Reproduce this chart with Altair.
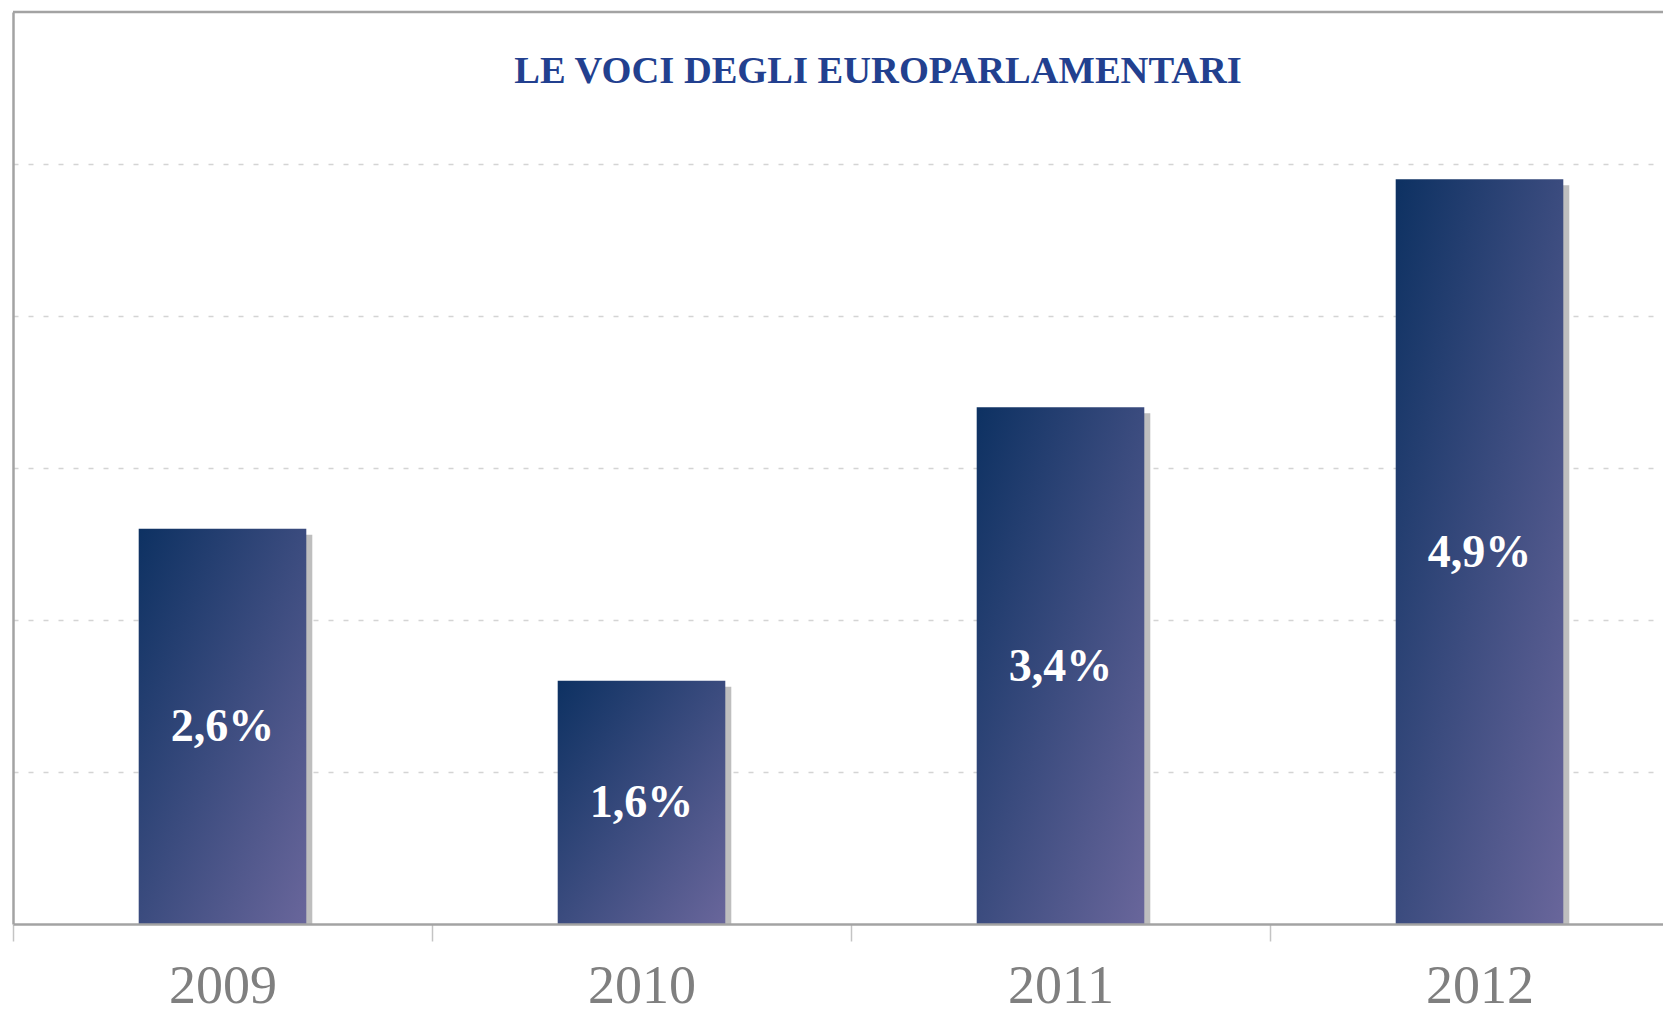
import altair as alt
import pandas as pd

years = ["2009", "2010", "2011", "2012"]
values = [2.6, 1.6, 3.4, 4.9]
value_labels = ["2,6%", "1,6%", "3,4%", "4,9%"]
title_text = "LE VOCI DEGLI EUROPARLAMENTARI"
y_max = 6
grid_values = [1, 2, 3, 4, 5]

df = pd.DataFrame({"year": years, "value": values, "label": value_labels})

BORDER = "#A3A3A3"

x_enc = alt.X(
    "year:N",
    sort=years,
    scale=alt.Scale(paddingInner=0, paddingOuter=0, range=[0, 1676]),
    axis=alt.Axis(
        title=None,
        labelAngle=0,
        tickBand="extent",
        tickSize=17,
        tickColor="#C4C4C4",
        tickWidth=1.5,
        domainColor=BORDER,
        domainWidth=2.5,
        labelFont="Liberation Serif",
        labelFontSize=54,
        labelColor="#7F7F7F",
        labelBaseline="alphabetic",
        labelPadding=61,
        grid=False,
        zindex=1,
    ),
)
y_scale = alt.Scale(domain=[0, y_max], nice=False, zero=True)
y_axis = alt.Axis(
    title=None,
    labels=False,
    ticks=False,
    domain=True,
    domainColor=BORDER,
    domainWidth=2.5,
    grid=True,
    values=grid_values,
    gridColor="#D4D4D4",
    gridWidth=1.5,
    gridDash=[5, 10],
)

base = alt.Chart(df)

shadow = base.mark_bar(
    width=alt.RelativeBandSize(0.4), color="#BEBEBE", xOffset=6, yOffset=6
).encode(
    x=x_enc,
    y=alt.Y("value:Q", scale=y_scale, axis=y_axis),
    y2=alt.datum(0),
)

grad = alt.Gradient(
    gradient="linear",
    x1=0, y1=0, x2=1, y2=1,
    stops=[
        alt.GradientStop(offset=0, color="#0D3162"),
        alt.GradientStop(offset=1, color="#69669B"),
    ],
)

bars = base.mark_bar(width=alt.RelativeBandSize(0.4), color=grad).encode(
    x=x_enc,
    y=alt.Y("value:Q", scale=y_scale, axis=y_axis),
    y2=alt.datum(0),
)

texts = base.transform_calculate(mid="datum.value / 2").mark_text(
    font="Liberation Serif",
    fontWeight="bold",
    fontSize=46,
    color="white",
    align="center",
    baseline="middle",
    dy=1,
).encode(
    x=x_enc,
    y=alt.Y("mid:Q", scale=y_scale, axis=y_axis),
    text="label:N",
)

top_border = alt.Chart(pd.DataFrame({"top": [y_max]})).mark_rule(
    color=BORDER, strokeWidth=2.5
).encode(y=alt.Y("top:Q", scale=y_scale, axis=y_axis))

title = alt.Chart(pd.DataFrame({"t": [title_text]})).mark_text(
    font="Liberation Serif",
    fontWeight="bold",
    fontSize=38.5,
    color="#22408F",
    align="center",
    baseline="alphabetic",
).encode(
    text="t:N",
    x=alt.value(865),
    y=alt.value(71),
)

chart = (
    alt.layer(shadow, bars, texts, top_border, title)
    .properties(
        width=1650,
        height=912,
        autosize=alt.AutoSizeParams(type="none"),
        padding={"left": 5, "top": 4, "right": 0, "bottom": 90},
        background="white",
    )
    .configure_view(stroke=None)
)

chart.save("out.html", embed_options={"renderer": "svg", "actions": False})
